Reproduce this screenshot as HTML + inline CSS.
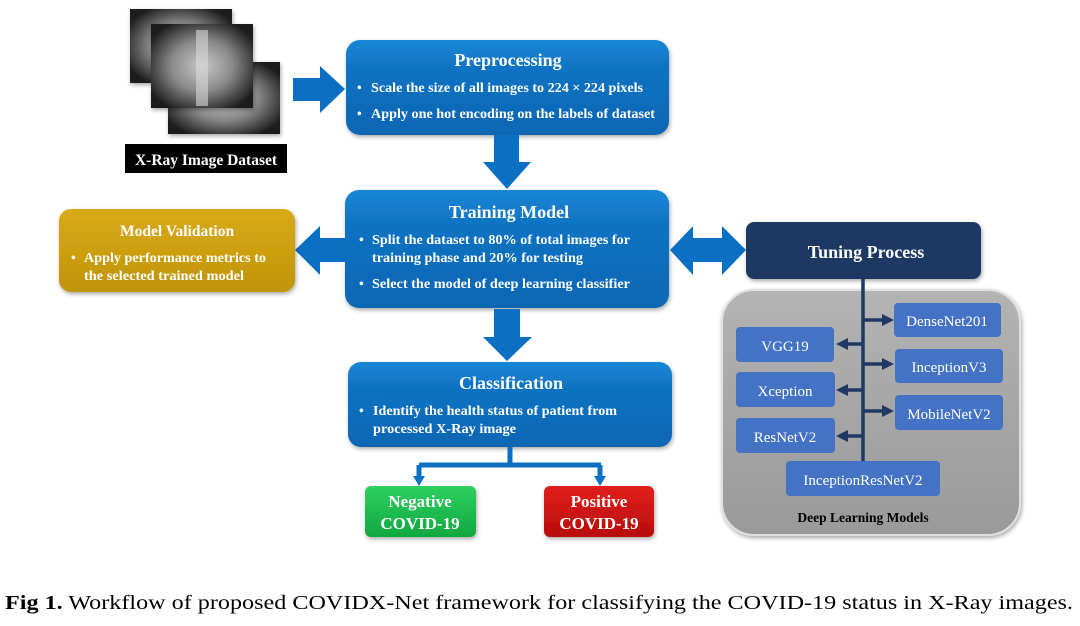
<!DOCTYPE html>
<html><head><meta charset="utf-8"><style>
html,body{margin:0;padding:0;background:#fff;}
svg text{font-family:"Liberation Serif",serif;}
</style></head><body>
<svg width="1080" height="621" viewBox="0 0 1080 621" xmlns="http://www.w3.org/2000/svg">
<defs>
<linearGradient id="blue" x1="0" y1="0" x2="0" y2="1"><stop offset="0" stop-color="#1a86d6"/><stop offset="0.3" stop-color="#0f73c2"/><stop offset="1" stop-color="#0b66b4"/></linearGradient>
<linearGradient id="gold" x1="0" y1="0" x2="0" y2="1"><stop offset="0" stop-color="#d8aa18"/><stop offset="1" stop-color="#c0940a"/></linearGradient>
<linearGradient id="green" x1="0" y1="0" x2="0" y2="1"><stop offset="0" stop-color="#2ed060"/><stop offset="1" stop-color="#10a840"/></linearGradient>
<linearGradient id="red" x1="0" y1="0" x2="0" y2="1"><stop offset="0" stop-color="#e0201c"/><stop offset="1" stop-color="#b80c0c"/></linearGradient>
<linearGradient id="gray" x1="0" y1="0" x2="0" y2="1"><stop offset="0" stop-color="#b4b4b4"/><stop offset="0.5" stop-color="#a6a6a6"/><stop offset="1" stop-color="#9a9a9a"/></linearGradient>
<radialGradient id="xr" cx="0.5" cy="0.5" r="0.6"><stop offset="0" stop-color="#c8c8c8"/><stop offset="0.5" stop-color="#8a8a8a"/><stop offset="1" stop-color="#1a1a1a"/></radialGradient>
<filter id="sh" x="-10%" y="-10%" width="120%" height="130%"><feDropShadow dx="1" dy="2" stdDeviation="2" flood-color="#000" flood-opacity="0.35"/></filter>
</defs>

<rect x="130" y="9" width="102" height="74" fill="url(#xr)" filter="url(#sh)"/>
<rect x="168" y="62" width="112" height="72" fill="url(#xr)" filter="url(#sh)"/>
<rect x="151" y="24" width="102" height="84" fill="url(#xr)" filter="url(#sh)"/>
<rect x="196" y="30" width="12" height="76" fill="#d8d8d8" opacity="0.6"/>
<rect x="125" y="144" width="162" height="29" fill="#000"/>
<text x="206" y="165" fill="#fff" font-size="15.5" font-weight="bold" text-anchor="middle">X-Ray Image Dataset</text>

<polygon points="293,78 320,78 320,66 345,89 320,113 320,101 293,101" fill="#0b70c4"/>

<rect x="346" y="40" width="323" height="95" rx="14" fill="url(#blue)" filter="url(#sh)"/>
<text x="508" y="66" fill="#fff" font-size="18" font-weight="bold" text-anchor="middle">Preprocessing</text>
<g fill="#fff" font-size="13.5" font-weight="bold">
<text x="357" y="92">•</text><text x="371" y="92" textLength="272" lengthAdjust="spacingAndGlyphs">Scale the size of all images to 224 × 224 pixels</text>
<text x="357" y="118">•</text><text x="371" y="118" textLength="284" lengthAdjust="spacingAndGlyphs">Apply one hot encoding on the labels of dataset</text>
</g>

<polygon points="494,135 519,135 519,162 531,162 507,189 483,162 494,162" fill="#0b70c4"/>

<rect x="345" y="190" width="324" height="118" rx="14" fill="url(#blue)" filter="url(#sh)"/>
<text x="509" y="218" fill="#fff" font-size="18" font-weight="bold" text-anchor="middle">Training Model</text>
<g fill="#fff" font-size="13.5" font-weight="bold">
<text x="359" y="244">•</text><text x="372" y="244" textLength="258" lengthAdjust="spacingAndGlyphs">Split the dataset to 80% of total images for</text>
<text x="372" y="262" textLength="211" lengthAdjust="spacingAndGlyphs">training phase and 20% for testing</text>
<text x="359" y="288">•</text><text x="372" y="288" textLength="258" lengthAdjust="spacingAndGlyphs">Select the model of deep learning classifier</text>
</g>

<polygon points="345,238 320,238 320,226 295,250 320,275 320,262 345,262" fill="#0b70c4"/>

<rect x="59" y="209" width="236" height="83" rx="12" fill="url(#gold)" filter="url(#sh)"/>
<text x="177" y="236" fill="#fff" font-size="15.5" font-weight="bold" text-anchor="middle">Model Validation</text>
<g fill="#fff" font-size="13.5" font-weight="bold">
<text x="71" y="262">•</text><text x="84" y="262" textLength="182" lengthAdjust="spacingAndGlyphs">Apply performance metrics to</text>
<text x="84" y="280" textLength="160" lengthAdjust="spacingAndGlyphs">the selected trained model</text>
</g>

<polygon points="670,250 693,226 693,238 722,238 722,226 746,250 722,275 722,262 693,262 693,275" fill="#0b70c4"/>

<polygon points="494,309 520,309 520,337 532,337 507,361 483,337 494,337" fill="#0b70c4"/>

<rect x="348" y="362" width="324" height="85" rx="13" fill="url(#blue)" filter="url(#sh)"/>
<text x="511" y="389" fill="#fff" font-size="18" font-weight="bold" text-anchor="middle">Classification</text>
<g fill="#fff" font-size="13.5" font-weight="bold">
<text x="359" y="415">•</text><text x="373" y="415" textLength="244" lengthAdjust="spacingAndGlyphs">Identify the health status of patient from</text>
<text x="373" y="433" textLength="143" lengthAdjust="spacingAndGlyphs">processed X-Ray image</text>
</g>

<path d="M510,447 V465 M419,465 H601 M419,465 V478 M600,465 V478" stroke="#0b70c4" stroke-width="5" fill="none"/>
<polygon points="413,476 425,476 419,486" fill="#0b70c4"/>
<polygon points="594,476 606,476 600,486" fill="#0b70c4"/>

<rect x="365" y="486" width="111" height="51" rx="6" fill="url(#green)" filter="url(#sh)"/>
<text x="420" y="507" fill="#fff" font-size="17" font-weight="bold" text-anchor="middle">Negative</text>
<text x="420" y="529" fill="#fff" font-size="17" font-weight="bold" text-anchor="middle">COVID-19</text>
<rect x="544" y="486" width="110" height="51" rx="6" fill="url(#red)" filter="url(#sh)"/>
<text x="599" y="507" fill="#fff" font-size="17" font-weight="bold" text-anchor="middle">Positive</text>
<text x="599" y="529" fill="#fff" font-size="17" font-weight="bold" text-anchor="middle">COVID-19</text>

<rect x="722" y="290" width="298" height="245" rx="32" fill="url(#gray)" stroke="#e0e0e0" stroke-width="2" filter="url(#sh)"/>
<rect x="746" y="222" width="235" height="57" rx="8" fill="#1f3864" filter="url(#sh)"/>
<text x="866" y="258" fill="#fff" font-size="18" font-weight="bold" text-anchor="middle">Tuning Process</text>

<g stroke="#1f3864" stroke-width="3.5" fill="none">
<path d="M863,279 V461"/>
<path d="M863,320 H884"/><path d="M863,364 H884"/><path d="M863,411 H884"/>
<path d="M863,344 H846"/><path d="M863,390 H846"/><path d="M863,436 H846"/>
</g>
<g fill="#1f3864">
<polygon points="882,314 894,320 882,326"/><polygon points="882,358 894,364 882,370"/><polygon points="882,405 894,411 882,417"/>
<polygon points="848,338 836,344 848,350"/><polygon points="848,384 836,390 848,396"/><polygon points="848,430 836,436 848,442"/>
</g>
<g fill="#4472c4">
<rect x="894" y="303" width="107" height="34" rx="4"/>
<rect x="736" y="327" width="98" height="35" rx="4"/>
<rect x="895" y="349" width="108" height="34" rx="4"/>
<rect x="736" y="372" width="99" height="35" rx="4"/>
<rect x="895" y="395" width="108" height="35" rx="4"/>
<rect x="736" y="418" width="99" height="35" rx="4"/>
<rect x="786" y="461" width="154" height="35" rx="4"/>
</g>
<g fill="#fff" font-size="15" text-anchor="middle">
<text x="947" y="326">DenseNet201</text>
<text x="785" y="351">VGG19</text>
<text x="949" y="372">InceptionV3</text>
<text x="785" y="396">Xception</text>
<text x="949" y="419">MobileNetV2</text>
<text x="785" y="442">ResNetV2</text>
<text x="863" y="485">InceptionResNetV2</text>
</g>
<text x="863" y="522" fill="#000" font-size="13.5" font-weight="bold" text-anchor="middle">Deep Learning  Models</text>

<text x="5" y="609" fill="#000" font-size="20.5" textLength="1068" lengthAdjust="spacingAndGlyphs"><tspan font-weight="bold">Fig 1.</tspan> Workflow of proposed COVIDX-Net framework for classifying the COVID-19 status in X-Ray images.</text>
</svg>
</body></html>
